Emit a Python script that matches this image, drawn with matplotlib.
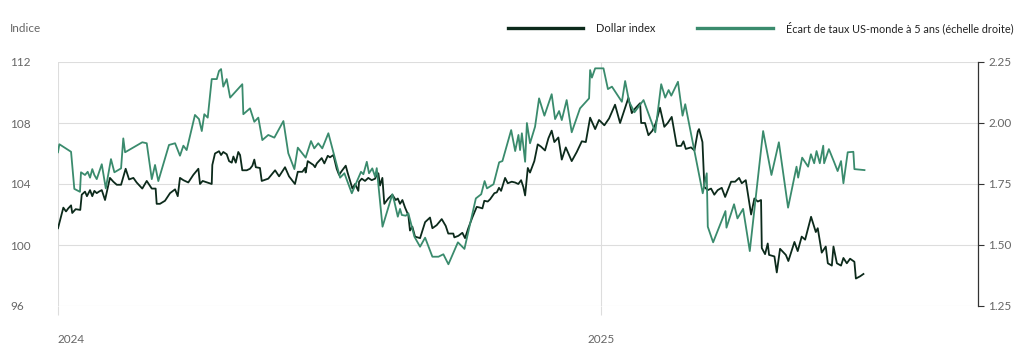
import numpy as np
import matplotlib
matplotlib.use("Agg")
import matplotlib.pyplot as plt
from matplotlib.lines import Line2D

plt.rcParams['font.family'] = ['Lato', 'DejaVu Sans']

# days counted from 1 Jan 2024
dollar_days = [0, 3.6, 5.4, 6.9, 8.8, 9.6, 11.9, 15.0, 16.0, 18.2, 19.5, 21.6, 23.1, 24.5,
               26.1, 27.6, 29.5, 31.7, 35.0, 37.3, 39.6, 42.5, 45.6, 47.9, 50.8, 53.0,
               56.8, 59.8, 63.2, 65.8, 66.5, 68.7, 72.1, 75.5, 78.9, 80.7, 82.2, 84.5,
               87.8, 91.2, 94.6, 95.7, 97.5, 103.6, 104.0, 105.8, 108.5, 109.9, 111.4,
               113.7, 115.3, 117.1, 118.2, 119.8, 121.5, 122.7, 124.2, 127.2, 129.4,
               131.0, 132.3, 133.3, 136.1, 137.3, 141.7, 146.3, 149.0, 153.0, 155.7,
               159.7, 161.6, 164.7, 166.5, 166.9, 168.3, 172.1, 173.2, 174.4, 177.7,
               179.5, 181.8, 183.3, 185.6, 187.8, 189.4, 191.2, 193.9, 195.3, 198.4,
               200.2, 202.4, 202.9, 204.7, 206.9, 209.1, 211.4, 213.7, 214.8, 215.9,
               217.0, 218.6, 219.9, 222.6, 225.3, 227.6, 229.0, 230.5, 232.1, 233.9,
               236.1, 237.2, 238.8, 240.6, 242.4, 244.0, 247.4, 250.7, 252.3, 255.2,
               258.6, 261.3, 263.0, 266.4, 267.1, 269.8, 272.5, 274.3, 276.5, 279.2,
               282.2, 284.4, 286.0, 287.3, 289.6, 291.2, 294.1, 295.7, 297.2, 298.6,
               301.3, 303.1, 305.8, 308.0, 310.2, 312.1, 313.6, 314.8, 316.6, 318.1,
               321.0, 323.3, 325.5, 328.2, 330.5, 332.7, 334.5, 337.2, 339.5, 342.2,
               346.2, 349.6, 353.0, 355.7, 358.6, 362.0, 364.6, 368.2, 371.4, 375.4,
               378.8, 381.0, 384.4, 386.7, 388.9, 392.3, 393.0, 395.6, 397.9, 400.6,
               402.9, 405.7, 408.6, 410.9, 413.6, 417.0, 419.9, 421.5, 423.1, 426.6,
               428.9, 431.2, 432.0, 434.3, 435.6, 437.9, 440.1, 442.3, 444.6, 447.3,
               449.6, 453.6, 456.3, 459.0, 460.8, 463.5, 467.1, 469.3, 471.6, 473.8,
               474.3, 476.5, 478.3, 479.2, 482.8, 484.4, 486.6, 490.5, 492.2, 496.3,
               498.5, 501.2, 503.5, 507.5, 510.7, 512.0, 514.7, 517.4, 518.8, 521.5,
               522.6, 524.9, 527.7, 529.3, 531.6, 533.8, 536.7, 537.7, 540.6, 542.8]
dollar_index = [101.1, 102.45, 102.2, 102.4, 102.6, 102.1, 102.35, 102.3, 103.3, 103.5, 103.2,
                103.6, 103.2, 103.55, 103.4, 103.5, 103.6, 102.95, 104.4, 104.15, 103.95,
                103.95, 105.0, 104.3, 104.4, 104.1, 103.7, 104.2, 103.7, 103.7, 102.7, 102.7,
                102.9, 103.4, 103.65, 103.2, 104.4, 104.25, 104.1, 104.6, 105.0, 104.0,
                104.2, 104.0, 105.25, 106.0, 106.15, 105.9, 106.1, 105.95, 105.5, 105.4,
                105.8, 105.4, 106.1, 105.9, 104.9, 104.9, 105.0, 105.2, 105.6, 105.1,
                105.05, 104.2, 104.35, 104.9, 104.5, 105.1, 104.5, 104.0, 104.8, 104.8,
                105.05, 104.75, 105.5, 105.25, 105.1, 105.35, 105.7, 105.35, 105.85,
                105.75, 105.9, 105.0, 104.6, 104.85, 105.2, 104.7, 103.7, 104.0, 103.55,
                104.15, 104.35, 104.2, 104.4, 104.25, 104.35, 104.6, 104.7, 103.9, 104.4,
                102.7, 103.05, 103.3, 102.95, 103.05, 102.7, 102.95, 102.45, 101.95,
                100.95, 101.2, 100.55, 100.5, 100.45, 101.5, 101.8, 101.1, 101.3, 101.7,
                101.25, 100.75, 100.75, 100.5, 100.6, 100.8, 100.45, 101.1, 101.8, 102.5,
                102.45, 102.4, 102.9, 102.85, 103.0, 103.4, 103.45, 103.75, 103.55, 104.4,
                104.05, 104.15, 104.1, 104.0, 104.25, 103.8, 103.25, 105.05, 104.75,
                105.5, 106.6, 106.45, 106.2, 107.0, 107.5, 106.75, 107.05, 105.6, 106.4,
                105.5, 106.1, 106.8, 106.75, 108.35, 107.6, 108.2, 107.85, 108.3, 109.2,
                108.0, 108.65, 109.65, 108.65, 108.95, 109.3, 108.0, 108.0, 107.2, 107.5,
                108.0, 109.0, 107.75, 108.0, 108.4, 106.5, 106.5, 106.8, 106.3, 106.4,
                106.2, 107.45, 107.6, 106.75, 103.8, 103.6, 103.7, 103.3, 103.6, 103.75,
                103.15, 104.15, 104.15, 104.4, 104.05, 104.25, 102.0, 103.05, 102.85,
                102.95, 99.8, 99.4, 100.1, 99.35, 99.25, 98.2, 99.75, 99.35, 98.95, 100.2,
                99.6, 100.55, 100.35, 101.85, 100.85, 101.1, 99.5, 99.9, 98.8, 98.65, 99.9,
                98.8, 98.65, 99.15, 98.8, 99.1, 98.9, 97.8, 97.95, 98.1]

spread_days = [0, 0.9, 8.8, 11.0, 14.8, 15.5, 18.2, 20.0, 21.6, 23.1, 24.5, 26.1, 29.5, 32.2,
               35.7, 38.0, 42.5, 44.0, 45.2, 56.8, 59.8, 63.2, 65.4, 67.6, 74.8, 78.9,
               82.2, 84.5, 86.7, 92.3, 95.0, 96.9, 98.6, 100.9, 103.6, 107.0, 108.5,
               109.9, 111.4, 113.7, 116.0, 124.2, 124.9, 129.4, 132.3, 135.0, 137.7,
               141.7, 145.8, 151.9, 155.2, 159.3, 161.6, 166.9, 170.5, 172.7, 175.4,
               178.1, 182.2, 190.1, 193.0, 198.0, 204.2, 205.8, 208.1, 209.6, 211.8,
               213.7, 214.8, 218.7, 225.3, 226.7, 229.0, 230.5, 231.7, 234.4, 236.1,
               240.2, 244.0, 247.4, 252.3, 256.4, 259.7, 263.1, 269.5, 273.9, 281.6,
               285.2, 287.5, 289.1, 293.5, 297.3, 299.5, 305.4, 308.1, 310.3, 311.4,
               312.6, 314.8, 316.0, 318.1, 321.5, 324.2, 327.8, 332.7, 335.0, 337.7,
               339.5, 342.8, 346.2, 351.8, 357.9, 358.6, 359.8, 362.0, 367.6, 370.6,
               373.3, 380.0, 382.2, 384.9, 388.5, 394.6, 402.5, 406.5, 409.2, 411.5,
               413.3, 417.8, 420.9, 422.7, 434.5, 437.2, 437.9, 441.5, 449.8, 450.5,
               455.6, 457.9, 461.7, 466.2, 475.2, 480.8, 485.8, 492.0, 497.7, 498.8,
               501.5, 505.5, 507.4, 509.6, 511.2, 513.4, 515.7, 516.3, 519.5, 523.1,
               525.4, 527.7, 529.3, 532.2, 536.0, 536.7, 543.5]
spread_5y = [1.88, 1.913, 1.882, 1.730, 1.718, 1.798, 1.787, 1.800, 1.776, 1.811, 1.787, 1.770,
             1.831, 1.732, 1.852, 1.798, 1.814, 1.937, 1.880, 1.921, 1.917, 1.770, 1.828,
             1.762, 1.910, 1.917, 1.866, 1.907, 1.889, 2.033, 2.016, 1.967, 2.036, 2.022,
             2.180, 2.180, 2.213, 2.221, 2.149, 2.180, 2.104, 2.159, 2.036, 2.060, 2.005,
             2.022, 1.930, 1.951, 1.940, 2.008, 1.876, 1.811, 1.899, 1.858, 1.926, 1.896,
             1.917, 1.896, 1.958, 1.776, 1.794, 1.712, 1.800, 1.790, 1.841, 1.794, 1.814,
             1.780, 1.815, 1.575, 1.708, 1.677, 1.616, 1.648, 1.623, 1.620, 1.630, 1.534,
             1.493, 1.530, 1.452, 1.452, 1.462, 1.421, 1.511, 1.484, 1.691, 1.708, 1.762,
             1.732, 1.749, 1.839, 1.844, 1.971, 1.885, 1.951, 1.889, 1.958, 1.841, 2.000,
             1.917, 1.985, 2.101, 2.030, 2.118, 2.016, 2.049, 2.012, 2.094, 1.962, 2.060,
             2.101, 2.217, 2.186, 2.224, 2.224, 2.139, 2.149, 2.087, 2.172, 2.087, 2.044,
             2.094, 1.962, 2.159, 2.104, 2.135, 2.112, 2.169, 2.030, 2.077, 1.712, 1.794,
             1.575, 1.511, 1.639, 1.571, 1.667, 1.609, 1.648, 1.475, 1.967, 1.787, 1.921,
             1.653, 1.821, 1.776, 1.858, 1.821, 1.872, 1.835, 1.885, 1.835, 1.907, 1.835,
             1.893, 1.839, 1.803, 1.844, 1.753, 1.880, 1.882, 1.811, 1.807]

left_ticks = [96, 100, 104, 108, 112]
right_ticks = [1.25, 1.50, 1.75, 2.00, 2.25]
year_ticks = ['2024-01-01', '2025-01-01']
year_labels = ['2024', '2025']

start = np.datetime64('2024-01-01T00:00')
def to_dates(days):
    return start + (np.array(days) * 24 * 60).astype('timedelta64[m]')

dark = '#0c2a1b'
green = '#3a8b6d'
grey_txt = '#666666'
grid_c = '#dddddd'

fig = plt.figure(figsize=(10.24, 3.52), dpi=100)
ax = fig.add_axes([58 / 1024, 1 - 306 / 352, 920 / 1024, 244 / 352])
ax2 = ax.twinx()

ax.plot(to_dates(dollar_days), dollar_index, color=dark, lw=1.3, zorder=3)
ax2.plot(to_dates(spread_days), spread_5y, color=green, lw=1.3)

ax.set_ylim(96, 112)
ax2.set_ylim(1.25, 2.25)
ax.set_xlim(start, start + np.timedelta64(620, 'D'))

ax.set_yticks(left_ticks)
ax.set_yticklabels([str(t) for t in left_ticks])
ax.tick_params(axis='y', length=0, pad=34.5, labelsize=8.5, labelcolor=grey_txt)
for lab in ax.get_yticklabels():
    lab.set_horizontalalignment('left')

ax2.set_yticks(right_ticks)
ax2.set_yticklabels([f'{t:.2f}' for t in right_ticks])
ax2.tick_params(axis='y', length=4.5, width=0.8, color='#333333', pad=3,
                labelsize=8.5, labelcolor=grey_txt)

ax.set_xticks(np.array(year_ticks, dtype='datetime64[m]'))
ax.set_xticklabels(year_labels)
ax.tick_params(axis='x', length=6.5, width=0.8, color=grid_c, pad=14,
               labelsize=8.5, labelcolor=grey_txt)
ax.get_xticklabels()[0].set_horizontalalignment('left')

ax.grid(True, color=grid_c, lw=0.8)
ax.set_axisbelow(True)
for a in (ax, ax2):
    for s in ('top', 'bottom', 'left'):
        a.spines[s].set_visible(False)
ax.spines['right'].set_visible(False)
ax2.spines['right'].set_color('#333333')
ax2.spines['right'].set_linewidth(0.9)

fig.text(10 / 1024, 1 - 28 / 352, 'Indice', fontsize=8.5, color=grey_txt, va='center')

# legend
ly = 1 - 28 / 352
fig.add_artist(Line2D([508 / 1024, 583 / 1024], [ly, ly], color=dark, lw=2.4,
                      transform=fig.transFigure))
fig.text(596 / 1024, ly, 'Dollar index', fontsize=8, color='#222222', va='center')
fig.add_artist(Line2D([697 / 1024, 773 / 1024], [ly, ly], color=green, lw=2.4,
                      transform=fig.transFigure))
fig.text(786 / 1024, ly, 'Écart de taux US-monde à 5 ans (échelle droite)',
         fontsize=7.85, color='#222222', va='center')

fig.savefig('out.png', dpi=100)
